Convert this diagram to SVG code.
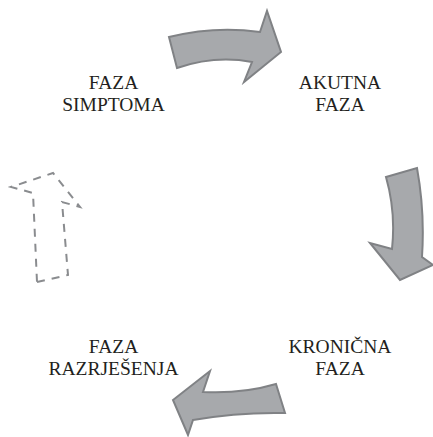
<svg xmlns="http://www.w3.org/2000/svg" width="433" height="437" viewBox="0 0 433 437">
<style>
.lbl{font-family:"Liberation Serif","Times New Roman",serif;font-size:19.5px;fill:#231f20;text-anchor:middle}
.arr{fill:#a7a9ac;stroke:#808285;stroke-width:2;stroke-linejoin:miter}
.dash{fill:none;stroke:#8a8c8f;stroke-width:2;stroke-dasharray:8 7}
</style>
<rect width="433" height="437" fill="#ffffff"/>
<g id="connectors">
<path class="arr" d="M169,37 Q215,25.5 260,32 L267,11 L281,52 L244,82 L252,62 Q215,55 177,68 Z"/>
<path class="arr" d="M386,177 L417,168 Q425,212 422,257 L433,265 L400,280 L370,243 L392,249 Q396,212 386,177 Z"/>
<path class="arr" d="M276,384 L285,413 Q238,412 193,420 L188,435 L173,400 L210,371 L203,392 Q242,394 276,384 Z"/>
<path class="dash" d="M37,282 L68,275 L62,202 L80,207 L53,173 L11,187 L33,193 Z"/>
</g>
<g id="node-simptoma"><text class="lbl" x="113.5" y="89">FAZA</text><text class="lbl" x="113.5" y="111">SIMPTOMA</text></g>
<g id="node-akutna"><text class="lbl" x="340" y="89">AKUTNA</text><text class="lbl" x="340" y="111">FAZA</text></g>
<g id="node-kronicna"><text class="lbl" x="340" y="353">KRONIČNA</text><text class="lbl" x="340" y="375">FAZA</text></g>
<g id="node-razrjesenja"><text class="lbl" x="113.5" y="353">FAZA</text><text class="lbl" x="113.5" y="375">RAZRJEŠENJA</text></g>
</svg>
